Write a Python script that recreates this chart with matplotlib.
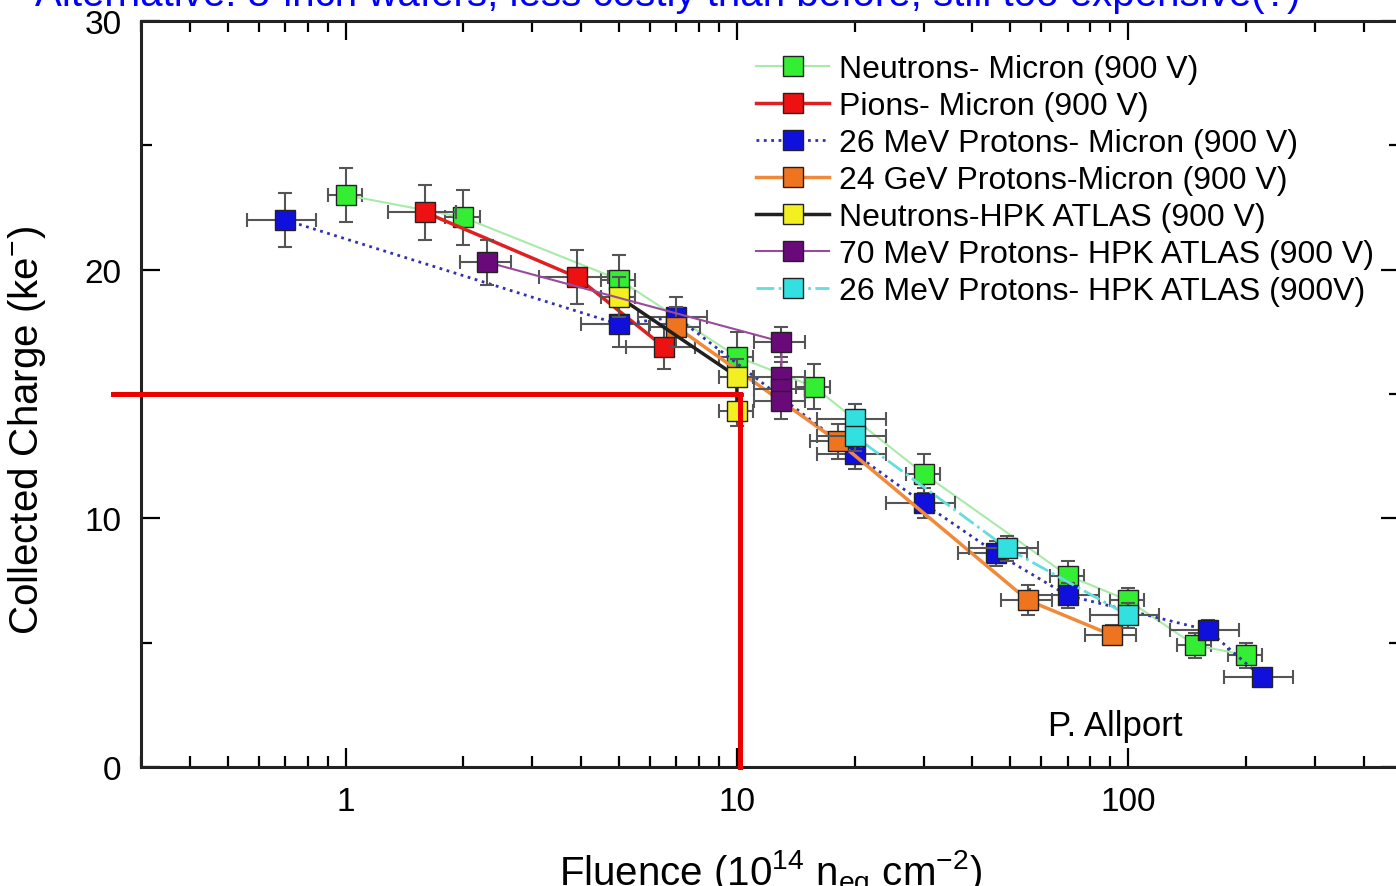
import numpy as np
import matplotlib
matplotlib.use('Agg')
import matplotlib.pyplot as plt
from matplotlib.ticker import LogLocator, NullFormatter, FixedLocator

plt.rcParams['font.family'] = ['Liberation Sans', 'DejaVu Sans']
plt.rcParams['mathtext.fontset'] = 'custom'
plt.rcParams['mathtext.rm'] = 'Liberation Sans'
plt.rcParams['mathtext.default'] = 'regular'

# data (fluence in 1e14 neq/cm2, charge in ke-)
n_mic_x = [1, 2, 5, 10, 15.7, 30, 70, 100, 148, 200]
n_mic_y = [23.0, 22.1, 19.6, 16.5, 15.3, 11.8, 7.7, 6.7, 4.9, 4.5]
n_mic_ey = [1.1, 1.1, 1.0, 1.0, 0.9, 0.8, 0.6, 0.5, 0.5, 0.5]

pi_mic_x = [1.6, 3.9, 6.5]
pi_mic_y = [22.3, 19.7, 16.9]
pi_mic_ey = [1.1, 1.1, 0.9]

p26_mic_x = [0.7, 5, 7, 20, 30, 46, 70, 160, 220]
p26_mic_y = [22.0, 17.8, 18.1, 12.6, 10.6, 8.6, 6.9, 5.5, 3.6]
p26_mic_ey = [1.1, 0.9, 0.8, 0.6, 0.6, 0.5, 0.5, 0.4, 0.3]

p24_mic_x = [7, 18.1, 55.5, 91]
p24_mic_y = [17.7, 13.1, 6.7, 5.3]
p24_mic_ey = [0.8, 0.7, 0.6, 0.4]

n_hpk_x = [5, 10, 10]
n_hpk_y = [18.9, 15.7, 14.3]
n_hpk_ey = [0.8, 0.7, 0.6]

p70_hpk_x = [2.3, 13, 13, 13, 13]
p70_hpk_y = [20.3, 17.1, 15.7, 15.2, 14.7]
p70_hpk_ey = [0.9, 0.6, 0.6, 0.6, 0.7]

p26_hpk_x = [20, 20, 49, 100]
p26_hpk_y = [14.0, 13.3, 8.8, 6.1]
p26_hpk_ey = [0.6, 0.6, 0.5, 0.5]

labels = ['Neutrons- Micron (900 V)', 'Pions- Micron (900 V)',
          '26 MeV Protons- Micron (900 V)', '24 GeV Protons-Micron (900 V)',
          'Neutrons-HPK ATLAS (900 V)', '70 MeV Protons- HPK ATLAS (900 V)',
          '26 MeV Protons- HPK ATLAS (900V)']

# face colour, line colour, line style, line width, rel. x error
styles = [
    ('#33ee33', '#a8eaa8', '-', 1.5, 0.10),
    ('#ee1111', '#e02020', '-', 2.5, 0.20),
    ('#1010dd', '#3030b0', ':', 2.0, 0.20),
    ('#ee7420', '#f08a3a', '-', 2.5, 0.15),
    ('#f2f020', '#202020', '-', 2.5, 0.10),
    ('#6a0a7a', '#9a4a9a', '-', 1.5, 0.15),
    ('#33e0e0', '#66dddd', '-.', 2.0, 0.20),
]

series = [
    (n_mic_x, n_mic_y, n_mic_ey),
    (pi_mic_x, pi_mic_y, pi_mic_ey),
    (p26_mic_x, p26_mic_y, p26_mic_ey),
    (p24_mic_x, p24_mic_y, p24_mic_ey),
    (n_hpk_x, n_hpk_y, n_hpk_ey),
    (p70_hpk_x, p70_hpk_y, p70_hpk_ey),
    (p26_hpk_x, p26_hpk_y, p26_hpk_ey),
]

fig = plt.figure(figsize=(13.96, 8.87), dpi=100)
ax = fig.add_axes([141/1396, 1 - 768/887, (1400 - 141)/1396, (768 - 22)/887])

for i, ((x, y, ey), (fc, lc, ls, lw, fx)) in enumerate(zip(series, styles)):
    x = np.array(x, dtype=float)
    xerr = [x * fx, x * fx]
    ax.errorbar(x, y, yerr=ey, xerr=xerr, fmt='none', ecolor='#555555',
                elinewidth=1.5, capsize=5, capthick=1.5, zorder=2 + i)
    ax.plot(x, y, color=lc, ls=ls, lw=lw, marker='s', markersize=15,
            markerfacecolor=fc, markeredgecolor='#222222', markeredgewidth=1,
            label=labels[i], zorder=3 + i)

# red guide lines drawn over the chart
ax.plot([0.255, 10.2], [15, 15], color='#ee0000', lw=3.6, clip_on=False, zorder=20)
ax.plot([10.2, 10.2], [15, 0], color='#ee0000', lw=3.6, clip_on=False, zorder=20)

ax.set_xscale('log')
ax.set_xlim(0.30, 495)
ax.set_ylim(0, 30)
ax.xaxis.set_major_locator(FixedLocator([1, 10, 100]))
ax.set_xticklabels(['1', '10', '100'])
ax.xaxis.set_minor_locator(LogLocator(base=10, subs=np.arange(2, 10)))
ax.xaxis.set_minor_formatter(NullFormatter())
ax.set_yticks([0, 10, 20, 30])
ax.set_yticks([5, 15, 25], minor=True)

ax.tick_params(which='both', direction='in', top=True, right=True, width=1.6,
               labelsize=24, pad=14)
ax.tick_params(which='major', length=14)
ax.tick_params(which='minor', length=8)
for s in ax.spines.values():
    s.set_linewidth(2.2)
    s.set_color('#222222')

ax.set_xlabel(r'Fluence (10$^{14}$ n$_{eq}$ cm$^{-2}$)', fontsize=29, labelpad=22)
ax.set_ylabel(r'Collected Charge (ke$^{-}$)', fontsize=29)
ax.yaxis.set_label_coords(-0.074, 0.453)

ax.text(92.7, 1.65, 'P. Allport', fontsize=25, ha='center', va='center')

ax.legend(loc='upper left', bbox_to_anchor=(0.4885, 0.956), frameon=False,
          fontsize=23, borderpad=0, borderaxespad=0, labelspacing=0.22,
          handlelength=2.3, handletextpad=0.3)

fig.text(1300/1396, 1 - 6/887,
         'Alternative: 8-inch wafers, less costly than before, still too expensive(?)',
         color='#0000ff', fontsize=29, ha='right', va='baseline')

fig.savefig('out.png', dpi=100, facecolor='white')
